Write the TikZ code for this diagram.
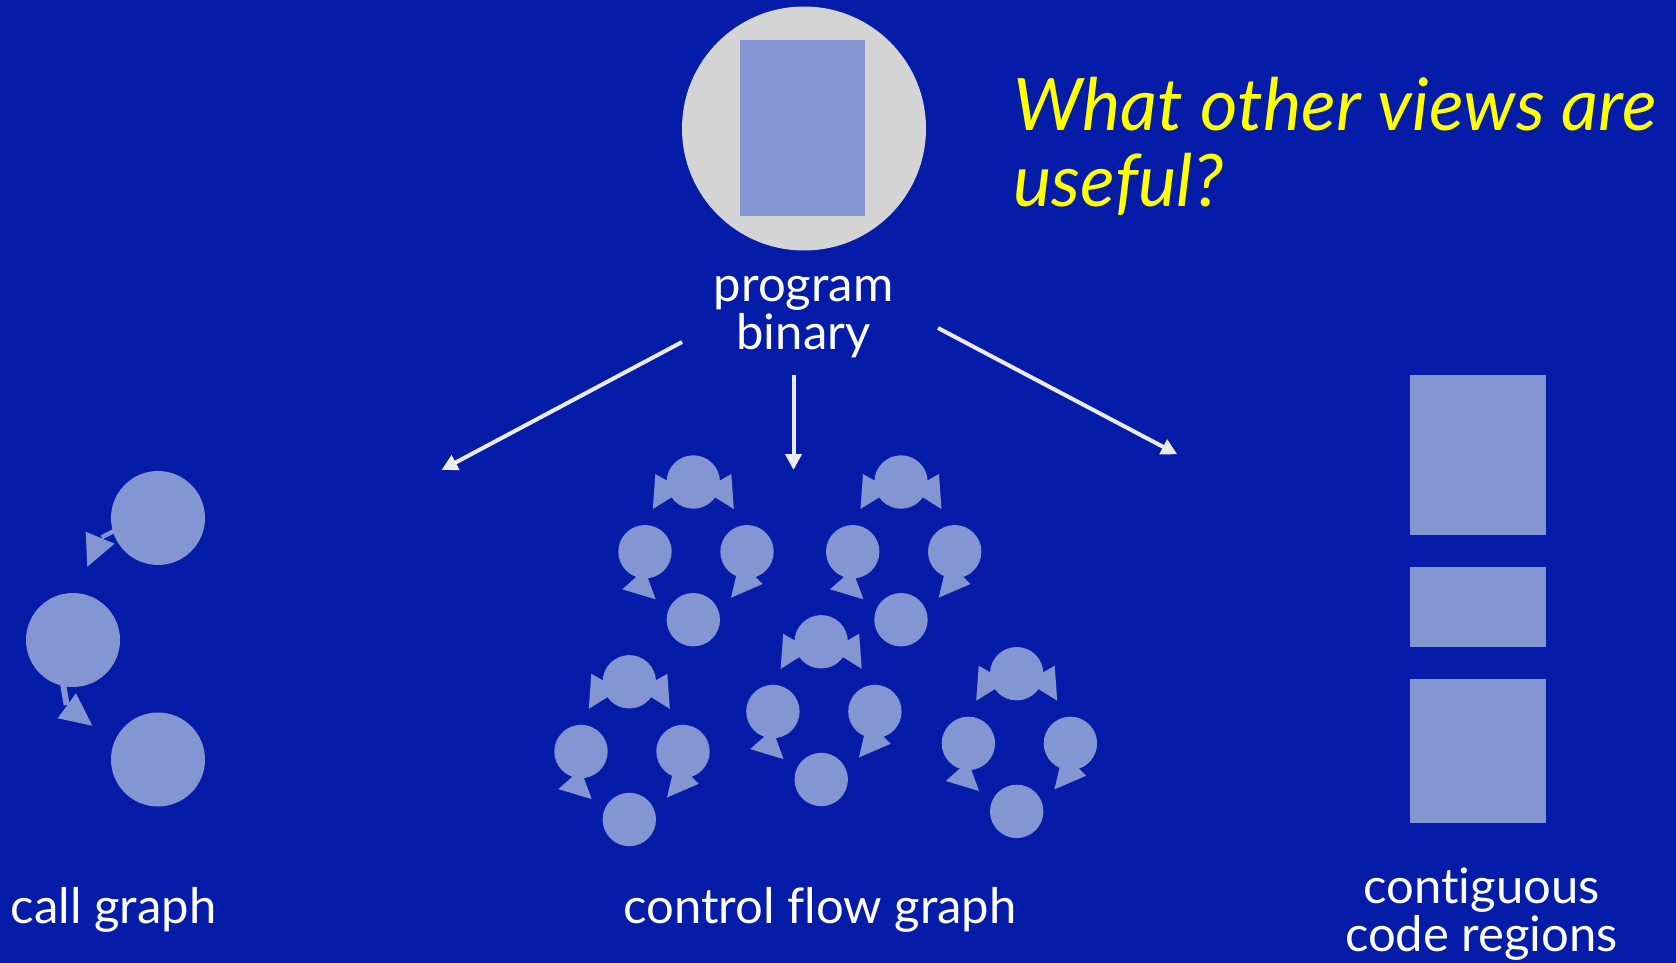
\documentclass[tikz,border=0pt]{standalone}
\usepackage{fontspec}
\setmainfont{Lato}[Ligatures=NoCommon]
\usetikzlibrary{arrows.meta}
\definecolor{Pozadina}{HTML}{041CA8}
\definecolor{Svetla}{HTML}{8496D2}
\definecolor{Disk}{HTML}{D4D4D4}
\definecolor{Strelica}{HTML}{EBEBEB}
\definecolor{Pitanje}{HTML}{FFFF00}
\tikzset{
  blok/.style     = {circle, fill=Svetla, inner sep=0pt, minimum size=26.7pt},
  funkcija/.style = {circle, fill=Svetla, inner sep=0pt, minimum size=47pt},
  regija/.style   = {rectangle, fill=Svetla, inner sep=0pt, minimum width=68pt},
  vrh/.style      = {fill=Svetla},
  natpis/.style   = {text=white, align=center, inner sep=0pt,
                     font=\fontsize{24.5}{21.5}\selectfont},
  tok/.style      = {-{Triangle[length=8pt, width=8pt]}, draw=Strelica, line width=2pt},
}

\begin{document}
\begin{tikzpicture}[x=0.5pt, y=-0.5pt]
  \fill[Pozadina] (0,0) rectangle (1676,963);
  \useasboundingbox (0,0) rectangle (1676,963);

  % --- program binary, gore ---
  \node[circle, fill=Disk, minimum size=122pt, inner sep=0pt] at (804,128.5) (bin) {};
  \node[rectangle, fill=Svetla, minimum width=62.5pt, minimum height=88pt,
        inner sep=0pt] at (802.5,128) (kod) {};
  \node[natpis, anchor=base] at (803.5,349) (binlbl) {program\\binary};

  \node[text=Pitanje, align=left, anchor=base west, inner sep=0pt,
        font=\fontsize{36.2}{38.3}\selectfont\itshape] at (1013,206.7) (pitanje)
        {What other views are\\useful?};

  % --- tri strelice ---
  \coordinate (izL) at (682,342);
  \coordinate (izS) at (793.5,375);
  \coordinate (izD) at (938,328);
  \coordinate (kaL) at (441.5,470);
  \coordinate (kaS) at (793.5,470);
  \coordinate (kaD) at (1177.3,454.3);
  \draw[tok] (izL) -- (kaL);
  \draw[tok] (izS) -- (kaS);
  \draw[tok] (izD) -- (kaD);

  % --- call graph ---
  \node[funkcija] at (158,518) (fA) {};
  \node[funkcija] at (73,640) (fB) {};
  \node[funkcija] at (158,759.5) (fC) {};
  \fill[vrh, shift={(fA)}] (-72.3,13.7) -- (-70.7,48.7) -- (-43.4,25.7) -- cycle;
  \draw[Svetla, line width=2.2pt, shift={(fA)}] (-56.3,19.3) -- (-38,10);
  \fill[vrh, shift={(fB)}] (-15.3,78.3) -- (19.3,85.7) -- (3,53.3) -- cycle;
  \draw[Svetla, line width=3pt, shift={(fB)}] (-11,38) -- (-6.3,65);
  \node[natpis, anchor=base west] at (10.5,923) (lcg) {call graph};

  % --- control flow graph ---
  \foreach \g/\x/\y in {g1/693.3/482, g2/901/482, g3/629.3/681.8,
                        g4/821.2/641.8, g5/1016.7/673.7}{
    \node[blok] at (\x,\y) (\g-t) {};
    \node[blok] at ({\x-48.3},{\y+69.7}) (\g-l) {};
    \node[blok] at ({\x+53.7},{\y+69.7}) (\g-r) {};
    \node[blok] at (\x,{\y+137.7}) (\g-b) {};
    \fill[vrh, shift={(\g-t)}] (-38,-8) -- (-40.5,27) -- (-10,8) -- cycle
                               (38,-8) -- (40.5,27) -- (10,8) -- cycle;
    \fill[vrh, shift={(\g-l)}] (-22.7,37.6) -- (10.7,47.6) -- (-0.3,17.8) -- cycle;
    \fill[vrh, shift={(\g-r)}] (-16,46) -- (15.7,32.3) -- (-7.3,9.3) -- cycle;
  }
  \node[natpis, anchor=base] at (820,923) (lcfg) {control flow graph};

  % --- contiguous code regions ---
  \node[regija, minimum height=79.8pt] at (1478,455.1) (r1) {};
  \node[regija, minimum height=39.8pt] at (1478,606.8) (r2) {};
  \node[regija, minimum height=72pt]   at (1478,751)   (r3) {};
  \node[natpis, anchor=base] at (1481.5,951) (lreg) {contiguous\\code regions};
\end{tikzpicture}
\end{document}
